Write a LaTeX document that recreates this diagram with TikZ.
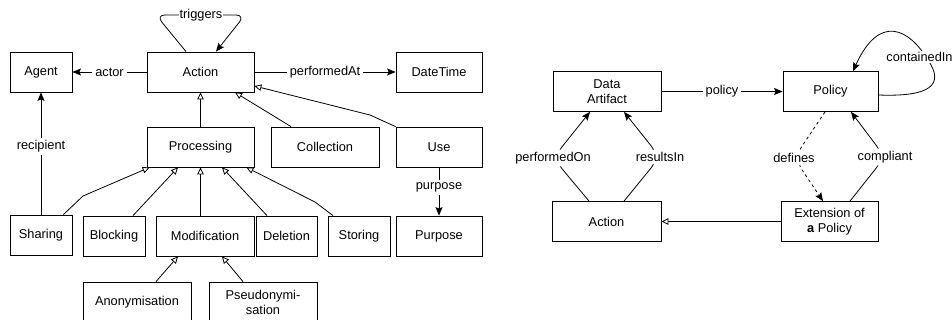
\documentclass[tikz,border=0pt]{standalone}
\usepackage{fontspec}
\setmainfont{Liberation Sans}
\usetikzlibrary{arrows.meta,calc}

\tikzset{
  box/.style={draw, line width=0.8pt, fill=white, align=center, inner sep=1pt,
              minimum height=40pt},
  lbl/.style={fill=white, inner sep=2.5pt},
  filled/.style={line width=0.8pt, -{Stealth[length=8.5pt,width=7pt,inset=1.5pt]}},
  hollow/.style={line width=0.8pt, -{Triangle[open,length=7pt,width=6.5pt,fill=white]}},
  bent/.style={rounded corners=14pt},
  every node/.style={font=\fontsize{12.8}{15}\selectfont}
}

\begin{document}
\begin{tikzpicture}[x=1pt,y=-1pt]
\useasboundingbox (0,0) rectangle (952,320);

% ---------- action taxonomy ----------
\node[box, minimum width=62pt]  (agent)      at (41,72)    {Agent};
\node[box, minimum width=107pt] (action)     at (200.5,72) {Action};
\node[box, minimum width=86pt]  (datetime)   at (439,72)   {DateTime};
\node[box, minimum width=107pt] (processing) at (200.5,147) {Processing};
\node[box, minimum width=108pt] (collection) at (325,147)  {Collection};
\node[box, minimum width=86pt]  (use)        at (439,147)  {Use};
\node[box, minimum width=62pt]  (sharing)    at (41,235)   {Sharing};
\node[box, minimum width=62pt]  (blocking)   at (114,236)  {Blocking};
\node[box, minimum width=98pt]  (modification) at (205,236) {Modification};
\node[box, minimum width=61pt]  (deletion)   at (286.5,236) {Deletion};
\node[box, minimum width=62pt]  (storing)    at (359,236)  {Storing};
\node[box, minimum width=86pt]  (purpose)    at (439,236)  {Purpose};
\node[box, minimum width=108pt] (anonym)     at (137,302)  {Anonymisation};
\node[box, minimum width=108pt] (pseudo)     at (263,302)  {Pseudonymi-\\sation};

% self loop on Action
\draw[filled, rounded corners=9pt] ($(action.north)+(-14.5,0)$) -- (156,15) -- (245,15)
  -- ($(action.north)+(15.5,0)$);
\node[lbl, inner sep=1pt] (trig) at (201,15) {triggers};

\draw[filled] (action) -- node[lbl, inner sep=3pt]{actor} (agent);
\draw[filled] (action) -- node[lbl]{performedAt} (datetime);
\draw[filled] (sharing) -- node[lbl, pos=0.56]{recipient} (agent);
\draw[filled] (use) -- node[lbl, pos=0.42]{purpose} (purpose);

% generalisations
\draw[hollow] (processing) -- (action);
\draw[hollow] ($(collection.north)+(-34,0)$) -- ($(action.south)+(34.5,0)$);
\draw[hollow] (use.north west) -- (370,115) -- ($(action.east)+(0,14)$);
\draw[hollow] ($(sharing.north east)+(-9,0)$) -- (83,196) -- ($(processing.south west)+(3,0)$);
\draw[hollow] ($(blocking.north)+(19,0)$) -- ($(processing.south)+(-22.5,0)$);
\draw[hollow] (processing.south |- modification.north) -- (processing.south);
\draw[hollow] ($(deletion.north)+(-19.5,0)$) -- ($(processing.south)+(21.5,0)$);
\draw[hollow] ($(storing.north)+(-26,0)$) -- (315,202) -- ($(processing.south east)+(-8,0)$);
\draw[hollow] ($(anonym.north)+(19,0)$) -- ($(modification.south)+(-27,0)$);
\draw[hollow] ($(pseudo.north)+(-20,0)$) -- ($(modification.south)+(17,0)$);

% ---------- policy model ----------
\node[box, minimum width=108pt] (artifact)  at (607,91.5)   {Data\\Artifact};
\node[box, minimum width=95pt]  (policy)    at (830.5,91.5) {Policy};
\node[box, minimum width=109pt] (action2)   at (606.5,221.5) {Action};
\node[box, minimum width=97pt]  (extension) at (829.5,221.5) {Extension of\\\textbf{a} Policy};

\draw[filled] (artifact) -- node[lbl]{policy} (policy);
\draw[hollow] (extension) -- (action2);

\draw[filled, bent] ($(action2.north)+(-17.5,0)$) -- (553,158)
  node[lbl]{performedOn} -- ($(artifact.south)+(-17,0)$);
\draw[filled, bent] ($(action2.north)+(17.5,0)$) -- (660,157)
  node[lbl]{resultsIn} -- ($(artifact.south)+(17,0)$);
\draw[filled, dashed, bent] ($(policy.south)+(-5.5,0)$) -- (794,158)
  node[lbl]{defines} -- ($(extension.north)+(-6.5,0)$);
\draw[filled, bent] ($(extension.north)+(20.5,0)$) -- (885,157)
  node[lbl]{compliant} -- ($(policy.south)+(20.5,0)$);

% self loop on Policy
\draw[filled] ($(policy.east)+(0,3.5)$) .. controls (930,97) and (945,85) .. (928,60)
  .. controls (910,30) and (880,12) .. ($(policy.north)+(22.5,0)$);
\node[lbl, inner sep=1pt] (cont) at (919.5,57) {containedIn};
\end{tikzpicture}
\end{document}
